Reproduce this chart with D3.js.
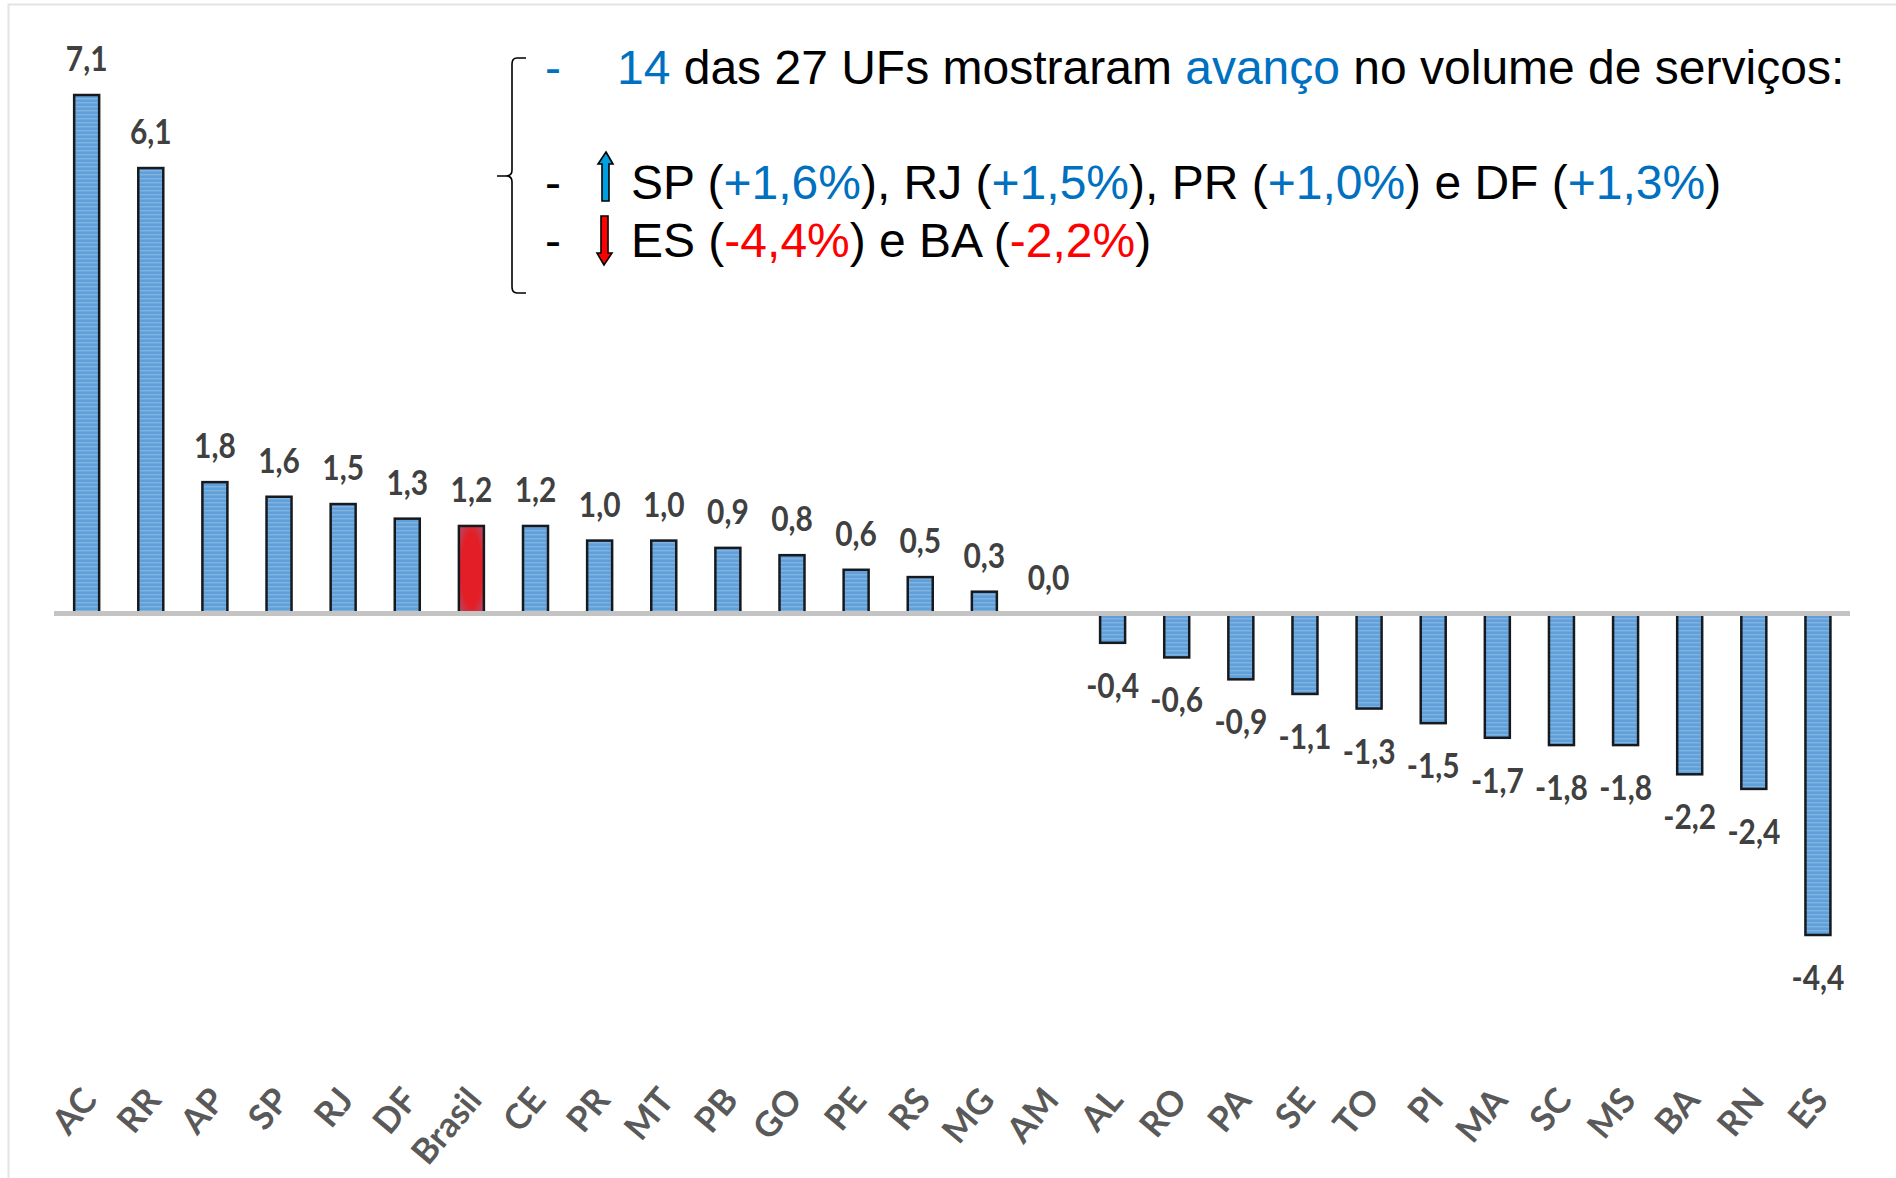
<!DOCTYPE html>
<html>
<head>
<meta charset="utf-8">
<script src="https://cdn.jsdelivr.net/npm/d3@7"></script>
<style>
  html, body { margin: 0; padding: 0; background: #fff; overflow: hidden; }
  svg { display: block; }
</style>
</head>
<body>
<div id="chart"></div>
<script>
// Volume de serviços por UF
const categories = ['AC','RR','AP','SP','RJ','DF','Brasil','CE','PR','MT','PB','GO','PE','RS','MG','AM',
  'AL','RO','PA','SE','TO','PI','MA','SC','MS','BA','RN','ES'];
const values = [7.1,6.1,1.8,1.6,1.5,1.3,1.2,1.2,1.0,1.0,0.9,0.8,0.6,0.5,0.3,0.0,
  -0.4,-0.6,-0.9,-1.1,-1.3,-1.5,-1.7,-1.8,-1.8,-2.2,-2.4,-4.4];
const highlighted = ['Brasil'];

// annotation lines, as [text, colour] runs
const BLUE = '#0070c0', RED = '#ff0000', BLACK = '#000000';
const headline = [['14', BLUE], [' das 27 UFs mostraram ', BLACK], ['avanço', BLUE], [' no volume de serviços:', BLACK]];
const upLine = [['SP (', BLACK], ['+1,6%', BLUE], ['), RJ (', BLACK], ['+1,5%', BLUE], ['), PR (', BLACK],
  ['+1,0%', BLUE], [') e DF (', BLACK], ['+1,3%', BLUE], [')', BLACK]];
const downLine = [['ES (', BLACK], ['-4,4%', RED], [') e BA (', BLACK], ['-2,2%', RED], [')', BLACK]];

const width = 1896, height = 1178;
const svg = d3.select('#chart').append('svg').attr('width', width).attr('height', height);
const defs = svg.append('defs');

// striped fill of the blue bars
const stripes = defs.append('pattern').attr('id', 'stripes')
  .attr('patternUnits', 'userSpaceOnUse').attr('width', 4).attr('height', 4);
stripes.append('rect').attr('width', 4).attr('height', 4).attr('fill', '#619fd8');
stripes.append('rect').attr('y', 2).attr('width', 4).attr('height', 1.4).attr('fill', '#7fb3e2');

const redFill = defs.append('radialGradient').attr('id', 'redFill').attr('r', 0.75);
redFill.append('stop').attr('offset', '55%').attr('stop-color', '#e41e26');
redFill.append('stop').attr('offset', '100%').attr('stop-color', '#a35a7c');

// frame of the original slide
svg.append('path').attr('d', 'M8.5,1178V4.5H1896').attr('fill', 'none').attr('stroke', '#e4e4e4').attr('stroke-width', 2);

const x = d3.scaleBand().domain(categories).range([54.6, 1850]).paddingInner(0.61).paddingOuter(0.305);
const y = d3.scaleLinear().domain([7.1, -4.4]).range([95, 935]);

// bars
svg.append('g').selectAll('rect').data(categories).join('rect')
  .attr('x', d => x(d))
  .attr('width', x.bandwidth())
  .attr('y', (d, i) => Math.min(y(values[i]), y(0)))
  .attr('height', (d, i) => Math.abs(y(values[i]) - y(0)))
  .attr('fill', d => highlighted.includes(d) ? 'url(#redFill)' : 'url(#stripes)')
  .attr('stroke', '#16191d')
  .attr('stroke-width', 2.5);

// zero line
svg.append('line')
  .attr('x1', 54).attr('x2', 1850)
  .attr('y1', y(0)).attr('y2', y(0))
  .attr('stroke', '#c4c4c4').attr('stroke-width', 5);

// value labels, narrowed a little because the original face is condensed
svg.append('g').selectAll('text').data(categories).join('text')
  .attr('transform', (d, i) => {
    const ly = values[i] < 0 ? y(values[i]) + 55 : y(values[i]) - 24;
    return `translate(${x(d) + x.bandwidth() / 2},${ly}) scale(0.88,1)`;
  })
  .attr('text-anchor', 'middle')
  .attr('font-family', 'Lato')
  .attr('font-weight', 700)
  .attr('font-size', 34)
  .attr('fill', '#404040')
  .text((d, i) => values[i].toFixed(1).replace('.', ','));

// category labels
svg.append('g').selectAll('text').data(categories).join('text')
  .attr('transform', d => `translate(${x(d) + x.bandwidth() / 2 + 12},1101) rotate(-50)`)
  .attr('text-anchor', 'end')
  .attr('font-family', 'Lato')
  .attr('font-weight', 700)
  .attr('font-size', 35)
  .attr('fill', '#595959')
  .text(d => d);

// annotation
function textLine(runs, tx, ty) {
  const t = svg.append('text').attr('x', tx).attr('y', ty)
    .attr('font-family', 'Liberation Sans').attr('font-size', 48)
    .attr('xml:space', 'preserve').style('white-space', 'pre');
  runs.forEach(r => t.append('tspan').attr('fill', r[1]).text(r[0]));
}
function dash(color, ty) {
  svg.append('text').attr('x', 545).attr('y', ty)
    .attr('font-family', 'Liberation Sans').attr('font-size', 48).attr('fill', color).text('-');
}
dash(BLUE, 84);
textLine(headline, 617, 84);
dash(BLACK, 199);
textLine(upLine, 631, 199);
dash(BLACK, 257);
textLine(downLine, 631, 257);

// brace
svg.append('path')
  .attr('d', 'M526,58H517Q512,58 512,64V170Q512,176 506,176H497M506,176Q512,176 512,182V287Q512,293 517,293H526')
  .attr('fill', 'none').attr('stroke', '#000').attr('stroke-width', 1.6);

// arrows
svg.append('path')
  .attr('d', 'M606,152L613,164H609V201H602V164H598Z')
  .attr('fill', '#00a0e0').attr('stroke', '#000').attr('stroke-width', 1.6);
svg.append('path')
  .attr('d', 'M604,265L597,253H601V216H608V253H612Z')
  .attr('fill', '#ff0000').attr('stroke', '#000').attr('stroke-width', 1.6);
</script>
</body>
</html>
